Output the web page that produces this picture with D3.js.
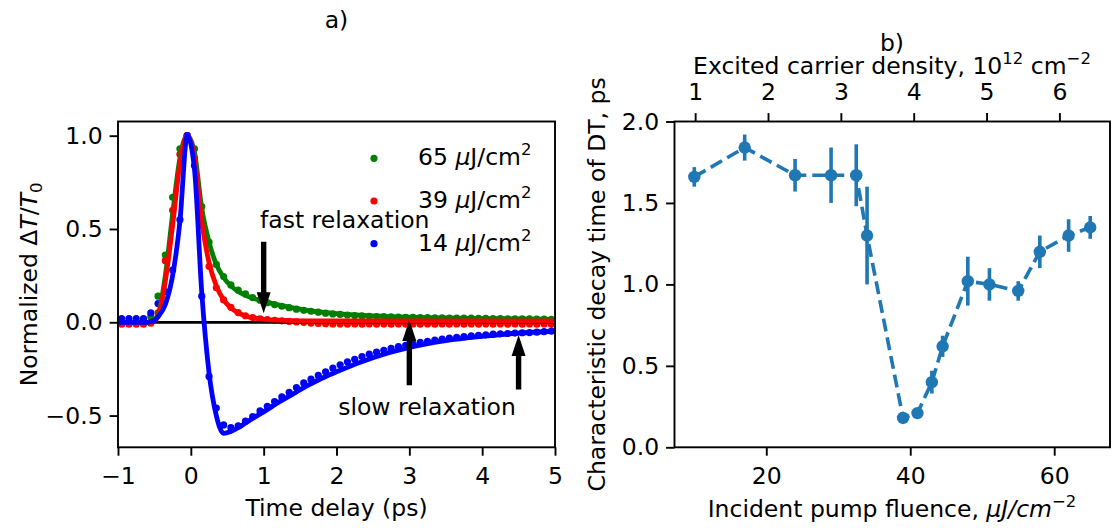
<!DOCTYPE html>
<html>
<head>
<meta charset="utf-8">
<script src="https://cdn.jsdelivr.net/npm/d3@7"></script>
<style>
  body { margin: 0; background: #fff; }
  text { font-family: "DejaVu Sans", sans-serif; fill: #000; }
</style>
</head>
<body>
<svg id="fig" width="1115" height="529"></svg>
<script>
// ---------- Panel a: normalized differential transmission ----------
const delayTimes = [
  -0.95, -0.85, -0.75, -0.65, -0.55, -0.45, -0.35, -0.25, -0.15, -0.05,
   0.05,  0.15,  0.25,  0.35,  0.45,  0.55,  0.65,  0.75,  0.85,  0.95,
   1.05,  1.15,  1.25,  1.35,  1.45,  1.55,  1.65,  1.75,  1.85,  1.95,
   2.05,  2.15,  2.25,  2.35,  2.45,  2.55,  2.65,  2.75,  2.85,  2.95,
   3.05,  3.15,  3.25,  3.35,  3.45,  3.55,  3.65,  3.75,  3.85,  3.95,
   4.05,  4.15,  4.25,  4.35,  4.45,  4.55,  4.65,  4.75,  4.85,  4.95
];
const signal65 = [
  0.000, 0.000, 0.000, 0.005, 0.030, 0.140, 0.360, 0.670, 0.930, 1.000,
  0.930, 0.620, 0.430, 0.310, 0.245, 0.200, 0.172, 0.152, 0.132, 0.118,
  0.105, 0.095, 0.086, 0.078, 0.070, 0.064, 0.059, 0.054, 0.049, 0.045,
  0.042, 0.039, 0.036, 0.034, 0.032, 0.031, 0.030, 0.029, 0.028, 0.027,
  0.026, 0.025, 0.025, 0.024, 0.024, 0.023, 0.023, 0.022, 0.022, 0.021,
  0.021, 0.020, 0.020, 0.019, 0.019, 0.018, 0.018, 0.017, 0.017, 0.016
];
const signal39 = [
  -0.010, -0.010, -0.010, -0.010, -0.005, 0.050, 0.330, 0.600, 0.900, 1.000,
   0.880,  0.520,  0.300,  0.185,  0.120, 0.080, 0.052, 0.035, 0.025, 0.018,
   0.014,  0.011,  0.008,  0.005,  0.002, 0.000, -0.004, -0.006, -0.008, -0.009,
  -0.009, -0.010, -0.009, -0.010, -0.009, -0.010, -0.009, -0.010, -0.009, -0.010,
  -0.009, -0.010, -0.009, -0.010, -0.009, -0.010, -0.009, -0.010, -0.009, -0.010,
  -0.009, -0.010, -0.009, -0.010, -0.009, -0.010, -0.009, -0.010, -0.009, -0.010
];
const signal14 = [
   0.020,  0.020,  0.020,  0.020,  0.050,  0.100,  0.165,  0.280,  0.550,  1.000,
   0.840,  0.140, -0.290, -0.460, -0.550, -0.565, -0.555, -0.530, -0.505, -0.475,
  -0.450, -0.425, -0.400, -0.375, -0.350, -0.325, -0.305, -0.285, -0.265, -0.245,
  -0.228, -0.212, -0.198, -0.184, -0.171, -0.160, -0.150, -0.140, -0.131, -0.123,
  -0.115, -0.108, -0.102, -0.096, -0.090, -0.085, -0.081, -0.077, -0.073, -0.070,
  -0.067, -0.064, -0.062, -0.060, -0.058, -0.056, -0.055, -0.053, -0.050, -0.047
];

// fitted curves
const fitTimes = [
  -1.0, -0.6, -0.5, -0.45, -0.35, -0.25, -0.15, -0.05, 0.05, 0.15,
   0.25, 0.35, 0.45, 0.55, 0.65, 0.75, 0.85, 1.0, 1.2, 1.4,
   1.6, 1.8, 2.0, 2.5, 3.0, 3.5, 4.0, 4.5, 5.0
];
const fit65 = [
  0.000, 0.000, 0.015, 0.040, 0.250, 0.580, 0.880, 1.000, 0.910, 0.610,
  0.430, 0.310, 0.240, 0.195, 0.165, 0.145, 0.130, 0.112, 0.093, 0.077,
  0.064, 0.054, 0.046, 0.034, 0.027, 0.023, 0.020, 0.018, 0.016
];
const fit39 = [
  0.000, 0.000, 0.010, 0.030, 0.220, 0.520, 0.850, 1.000, 0.880, 0.540,
  0.320, 0.195, 0.120, 0.078, 0.050, 0.034, 0.024, 0.016, 0.011, 0.009,
  0.008, 0.008, 0.008, 0.008, 0.008, 0.008, 0.008, 0.008, 0.008
];
const fit14 = [
  0.000, 0.000, 0.010, 0.030, 0.095, 0.250, 0.540, 1.000, 0.820, 0.160,
 -0.270, -0.500, -0.595, -0.585, -0.565, -0.540, -0.515, -0.480, -0.430, -0.385,
 -0.340, -0.300, -0.265, -0.190, -0.135, -0.098, -0.075, -0.058, -0.048
];

const seriesLabels = ["65", "39", "14"];
const seriesColors = ["#008000", "#ff0000", "#0000ff"];

// arrow annotations: [time, tail value, tip value]
const fastArrows = [[1.0, 0.432, 0.048]];
const slowArrows = [[3.0, -0.337, 0.012], [4.5, -0.36, -0.068]];

const timeTicks = [-1, 0, 1, 2, 3, 4, 5];
const signalTicks = [-0.5, 0.0, 0.5, 1.0];

// ---------- Panel b: decay time vs pump fluence ----------
const fluence   = [10, 17, 24, 29, 32.5, 34, 39, 41, 43, 44.5, 48, 51, 55, 58, 62, 65];
const decayTime = [1.66, 1.84, 1.67, 1.67, 1.67, 1.30, 0.18, 0.21, 0.40, 0.62, 1.02, 1.00, 0.96, 1.20, 1.30, 1.35];
const decayErr  = [0.06, 0.08, 0.10, 0.17, 0.19, 0.30, 0.02, 0.02, 0.07, 0.065, 0.15, 0.10, 0.06, 0.10, 0.10, 0.07];
const fluenceTicks = [20, 40, 60];
const decayTicks = [0.0, 0.5, 1.0, 1.5, 2.0];
const densityTicks = [1, 2, 3, 4, 5, 6];
const fluencePerDensity = 10.12;   // µJ/cm² per 10^12 cm^-2

// ---------- drawing ----------
const FS = 23.5;      // base font size
const SUP = 16.5;     // super/subscript size
const TICK = 8.4;     // tick length
const SPINE = 1.9;
const svg = d3.select("#fig");

function frame(x0, x1, y0, y1) {
  svg.append("rect").attr("x", x0).attr("y", y0)
    .attr("width", x1 - x0).attr("height", y1 - y0)
    .attr("fill", "none").attr("stroke", "#000").attr("stroke-width", SPINE);
}
function styleAxis(g) {
  g.select(".domain").remove();
  g.selectAll(".tick line").attr("stroke", "#000").attr("stroke-width", SPINE);
  g.selectAll(".tick text").attr("font-size", FS).attr("font-family", "DejaVu Sans").attr("fill", "#000");
}

// panel a scales
const xA = d3.scaleLinear().domain([-1, 5]).range([118, 555]);
const yA = d3.scaleLinear().domain([-0.67, 1.076]).range([447.3, 121.5]);

const gA = svg.append("g");
// measured points
[signal65, signal39, signal14].forEach((vals, i) => {
  gA.append("g").selectAll("circle").data(vals).join("circle")
    .attr("cx", (d, j) => xA(delayTimes[j]))
    .attr("cy", d => yA(d))
    .attr("r", 3.6)
    .attr("fill", seriesColors[i]);
});
// zero line
gA.append("line").attr("x1", xA(-1)).attr("x2", xA(5))
  .attr("y1", yA(0)).attr("y2", yA(0))
  .attr("stroke", "#000").attr("stroke-width", 2.8);
// fitted curves
const fitLine = d3.line().x((d, j) => xA(fitTimes[j])).y(d => yA(d)).curve(d3.curveMonotoneX);
[fit65, fit39, fit14].forEach((vals, i) => {
  gA.append("path").attr("d", fitLine(vals)).attr("fill", "none")
    .attr("stroke", seriesColors[i]).attr("stroke-width", 4.8)
    .attr("stroke-linejoin", "round");
});

// arrows
function arrow(x, yTail, yTip) {
  const dir = Math.sign(yTip - yTail);
  const headLen = 21, headW = 7, shaftW = 2.7;
  const yBase = yTip - dir * headLen;
  const pts = [
    [x - shaftW, yTail], [x + shaftW, yTail], [x + shaftW, yBase],
    [x + headW, yBase], [x, yTip], [x - headW, yBase], [x - shaftW, yBase]
  ];
  svg.append("polygon").attr("points", pts.map(p => p.join(",")).join(" ")).attr("fill", "#000");
}
fastArrows.concat(slowArrows).forEach(a => arrow(xA(a[0]), yA(a[1]), yA(a[2])));

svg.append("text").attr("x", 260).attr("y", 228).attr("font-size", FS).text("fast relaxation");
svg.append("text").attr("x", 427).attr("y", 415).attr("font-size", FS)
  .attr("text-anchor", "middle").text("slow relaxation");

// legend
seriesLabels.forEach((lab, i) => {
  const cy = 158.3 + i * 42.7;
  svg.append("circle").attr("cx", 374).attr("cy", cy).attr("r", 3.6).attr("fill", seriesColors[i]);
  const t = svg.append("text").attr("x", 418).attr("y", cy + 7).attr("font-size", FS);
  t.append("tspan").text(lab + " ");
  t.append("tspan").attr("font-style", "italic").text("\u03bc");
  t.append("tspan").text("J/cm");
  t.append("tspan").attr("dy", -10).attr("font-size", SUP).text("2");
});

// panel a axes
frame(118, 555, 121.5, 447.3);
svg.append("g").attr("transform", "translate(0,447.3)")
  .call(d3.axisBottom(xA).tickValues(timeTicks).tickSize(TICK).tickPadding(11.5).tickFormat(d3.format("d")))
  .call(styleAxis);
svg.append("g").attr("transform", "translate(118,0)")
  .call(d3.axisLeft(yA).tickValues(signalTicks).tickSize(TICK).tickPadding(7).tickFormat(d3.format(".1f")))
  .call(styleAxis);

svg.append("text").attr("x", 336.5).attr("y", 28).attr("font-size", FS).attr("text-anchor", "middle").text("a)");
svg.append("text").attr("x", 336.5).attr("y", 516).attr("font-size", FS).attr("text-anchor", "middle").text("Time delay (ps)");
{
  const t = svg.append("text").attr("transform", "translate(37,284.4) rotate(-90)")
    .attr("font-size", FS).attr("text-anchor", "middle");
  t.append("tspan").text("Normalized \u0394");
  t.append("tspan").attr("font-style", "italic").text("T");
  t.append("tspan").text("/");
  t.append("tspan").attr("font-style", "italic").text("T");
  t.append("tspan").attr("dy", 5).attr("font-size", SUP).text("0");
}

// panel b scales
const xB = d3.scaleLinear().domain([7.25, 67.75]).range([674.5, 1110]);
const yB = d3.scaleLinear().domain([0, 2]).range([447.3, 121.5]);
const xTop = d3.scaleLinear()
  .domain([7.25 / fluencePerDensity, 67.75 / fluencePerDensity]).range([674.5, 1110]);

const blue = "#1f77b4";
const gB = svg.append("g");
gB.append("path")
  .attr("d", d3.line().x((d, j) => xB(fluence[j])).y(d => yB(d))(decayTime))
  .attr("fill", "none").attr("stroke", blue).attr("stroke-width", 3.6)
  .attr("stroke-dasharray", "13,6");
gB.append("g").selectAll("line").data(decayTime).join("line")
  .attr("x1", (d, j) => xB(fluence[j])).attr("x2", (d, j) => xB(fluence[j]))
  .attr("y1", (d, j) => yB(d - decayErr[j])).attr("y2", (d, j) => yB(d + decayErr[j]))
  .attr("stroke", blue).attr("stroke-width", 3.6);
gB.append("g").selectAll("circle").data(decayTime).join("circle")
  .attr("cx", (d, j) => xB(fluence[j])).attr("cy", d => yB(d))
  .attr("r", 6.2).attr("fill", blue);

frame(674.5, 1110, 121.5, 447.3);
svg.append("g").attr("transform", "translate(0,447.3)")
  .call(d3.axisBottom(xB).tickValues(fluenceTicks).tickSize(TICK).tickPadding(11.5).tickFormat(d3.format("d")))
  .call(styleAxis);
svg.append("g").attr("transform", "translate(674.5,0)")
  .call(d3.axisLeft(yB).tickValues(decayTicks).tickSize(TICK).tickPadding(7).tickFormat(d3.format(".1f")))
  .call(styleAxis);
svg.append("g").attr("transform", "translate(0,121.5)")
  .call(d3.axisTop(xTop).tickValues(densityTicks).tickSize(TICK).tickPadding(13).tickFormat(d3.format("d")))
  .call(styleAxis);

svg.append("text").attr("x", 892).attr("y", 51).attr("font-size", FS).attr("text-anchor", "middle").text("b)");
{
  const t = svg.append("text").attr("x", 892).attr("y", 74).attr("font-size", FS).attr("text-anchor", "middle");
  t.append("tspan").text("Excited carrier density, 10");
  t.append("tspan").attr("dy", -10).attr("font-size", SUP).text("12");
  t.append("tspan").attr("dy", 10).text(" cm");
  t.append("tspan").attr("dy", -10).attr("font-size", SUP).text("\u22122");
}
{
  const t = svg.append("text").attr("x", 892).attr("y", 517).attr("font-size", FS).attr("text-anchor", "middle");
  t.append("tspan").text("Incident pump fluence, ");
  t.append("tspan").attr("font-style", "italic").text("\u03bcJ/cm");
  t.append("tspan").attr("dy", -10).attr("font-size", SUP).text("\u22122");
}
svg.append("text").attr("transform", "translate(605,284.4) rotate(-90)")
  .attr("font-size", FS).attr("text-anchor", "middle")
  .text("Characteristic decay time of DT, ps");
</script>
</body>
</html>
